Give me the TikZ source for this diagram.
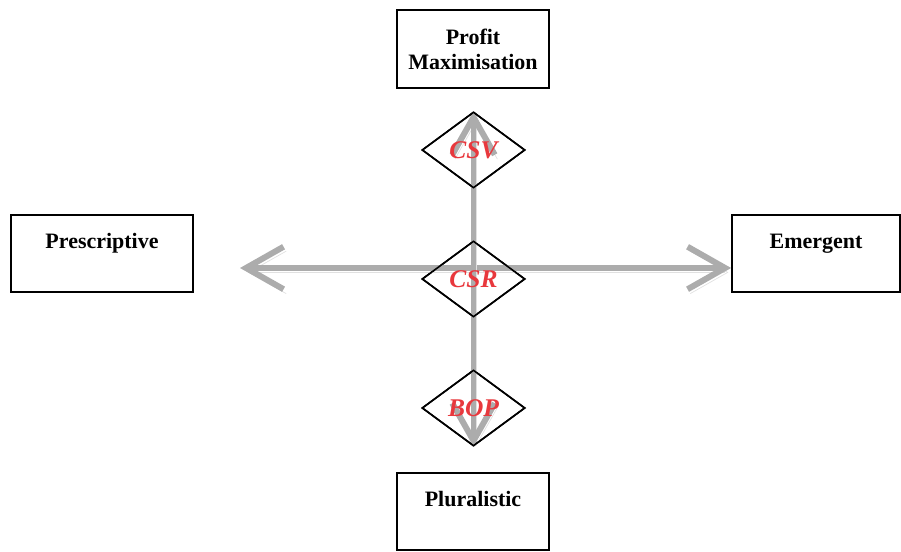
\documentclass[tikz,border=0pt]{standalone}
\usepackage{fontspec}
\setmainfont{Liberation Serif}
\usetikzlibrary{shapes.geometric,arrows.meta}

\definecolor{labelred}{RGB}{232,56,61}

\tikzset{
	box/.style={draw, line width=1pt, minimum width=3.04cm, minimum height=1.55cm, align=center, inner sep=0pt, font=\fontsize{12.5}{14.2}\selectfont\bfseries},
	pivot/.style={draw, diamond, line width=0.9pt, minimum width=2.06cm, minimum height=1.52cm, inner sep=0pt, text=labelred, font=\fontsize{14.5}{16}\selectfont\bfseries\itshape},
	axis/.style={draw=gray!65, line width=3.4pt, {Straight Barb[length=0.75cm,width=0.85cm]}-{Straight Barb[length=0.75cm,width=0.85cm]},
		preaction={draw=black!12, transform canvas={xshift=1.5pt,yshift=-2.5pt}}}
}

\begin{document}
\begin{tikzpicture}
		\useasboundingbox (0,0) rectangle (18.02,11.04);

		% the four poles
		\node[box] (profit) at (9.46,10.06) {Profit\\Maximisation};
		\node[box, minimum width=3.64cm] (prescriptive) at (2.04,5.97) {Prescriptive\\\mbox{}};
		\node[box, minimum width=3.36cm] (emergent) at (16.32,5.97) {Emergent\\\mbox{}};
		\node[box] (pluralistic) at (9.46,0.81) {Pluralistic\\\mbox{}};

		% the diamonds on the vertical axis
		\node[pivot] (csv) at (9.47,8.04) {};
		\node[pivot] (csr) at (9.47,5.46) {};
		\node[pivot] (bop) at (9.47,2.88) {};

		% axes
		\coordinate (westend) at (4.8,5.68);
		\draw[axis] (westend) -- (westend -| emergent.west);
		\draw[axis] (csv.north) -- (bop.south);

		% redraw diamonds and labels on top
		\node[pivot] at (csv) {CSV};
		\node[pivot] at (csr) {CSR};
		\node[pivot] at (bop) {BOP};
\end{tikzpicture}
\end{document}
